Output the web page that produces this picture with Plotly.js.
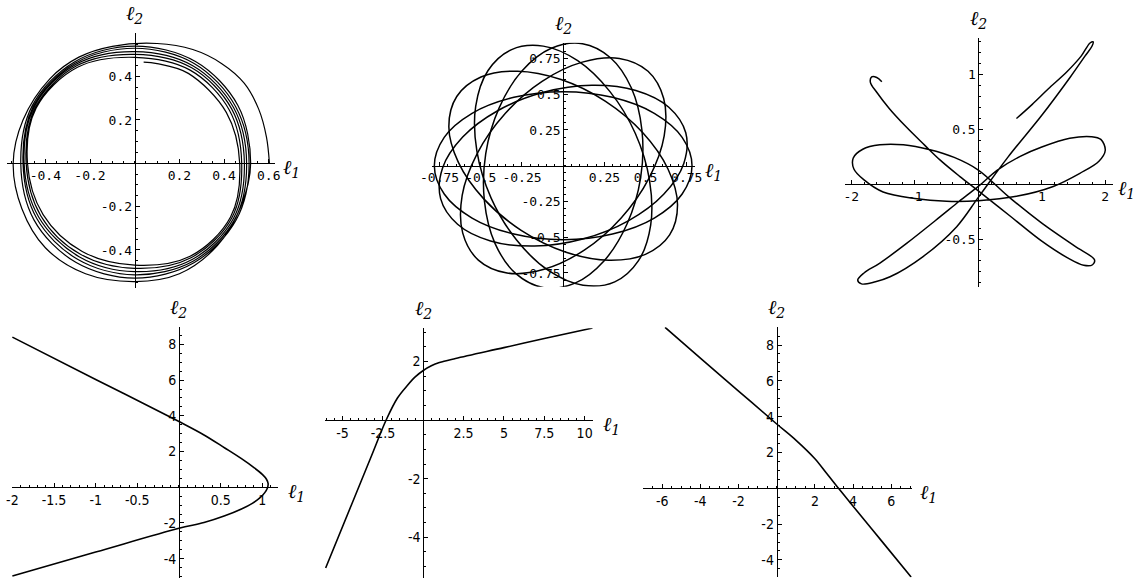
<!DOCTYPE html>
<html>
<head>
<meta charset="utf-8">
<script src="https://cdn.plot.ly/plotly-3.0.1.min.js"></script>
<style>
  html, body { margin: 0; padding: 0; background: #fff; }
  #chart { width: 1138px; height: 586px; }
</style>
</head>
<body>
<div id="chart"></div>
<script>
// ---- data ----

// panel 1: slowly shrinking spiral, first loop starts at (0.6, 0)
const p1X = [0.603, 0.59, 0.555, 0.49, 0.39, 0.26, 0.10, -0.10, -0.25, -0.38, -0.50, -0.544, -0.505, -0.40, -0.22, 0, 0.20, 0.37, 0.475, 0.519,
  0.462, 0.272, 0, -0.270, -0.459, -0.51, -0.451, -0.264, 0, 0.265, 0.454, 0.512,
  0.452, 0.266, 0, -0.267, -0.454, -0.50, -0.439, -0.256, 0, 0.261, 0.448, 0.501,
  0.443, 0.260, 0, -0.264, -0.450, -0.495, -0.430, -0.249, 0, 0.257, 0.442, 0.491,
  0.434, 0.255, 0, -0.260, -0.445, -0.486, -0.420, -0.243, 0, 0.252, 0.435, 0.479,
  0.424, 0.248, 0, -0.256, -0.441, -0.48, -0.410, -0.235, 0, 0.248, 0.429, 0.47,
  0.41, 0.24, 0.10, 0.04];
const p1Y = [0, 0.12, 0.25, 0.37, 0.46, 0.525, 0.553, 0.54, 0.49, 0.39, 0.20, 0, -0.21, -0.39, -0.51, -0.546, -0.51, -0.38, -0.20, 0,
  0.267, 0.470, 0.541, 0.468, 0.265, 0, -0.261, -0.457, -0.53, -0.459, -0.262, 0,
  0.261, 0.461, 0.531, 0.462, 0.262, 0, -0.254, -0.443, -0.515, -0.452, -0.259, 0,
  0.256, 0.450, 0.515, 0.456, 0.260, 0, -0.248, -0.431, -0.50, -0.444, -0.255, 0,
  0.251, 0.441, 0.503, 0.450, 0.257, 0, -0.243, -0.42, -0.485, -0.436, -0.251, 0,
  0.245, 0.430, 0.489, 0.443, 0.255, 0, -0.237, -0.407, -0.47, -0.429, -0.248, 0,
  0.235, 0.415, 0.46, 0.467];

// panel 2: precessing ellipse, one loop per group (null = break)
const p2X = [0.782, 0.722, 0.553, 0.299, 0, -0.299, -0.553, -0.722, -0.782, -0.722, -0.553, -0.299, 0, 0.299, 0.553, 0.722, 0.782, null,
  0.744, 0.641, 0.441, 0.174, -0.119, -0.395, -0.610, -0.732, -0.744, -0.641, -0.441, -0.174, 0.119, 0.395, 0.610, 0.732, 0.744, null,
  0.646, 0.694, 0.636, 0.482, 0.255, -0.013, -0.277, -0.499, -0.646, -0.694, -0.636, -0.482, -0.255, 0.013, 0.277, 0.499, 0.646, null,
  0.515, 0.341, 0.116, -0.128, -0.352, -0.522, -0.613, -0.610, -0.515, -0.341, -0.116, 0.128, 0.352, 0.522, 0.613, 0.610, 0.515, null,
  0.313, 0.457, 0.531, 0.524, 0.438, 0.284, 0.088, -0.121, -0.313, -0.457, -0.531, -0.524, -0.438, -0.284, -0.088, 0.121, 0.313, null,
  0.117, -0.072, -0.249, -0.388, -0.470, -0.478, -0.414, -0.287, -0.117, 0.072, 0.249, 0.388, 0.470, 0.478, 0.414, 0.287, 0.117];
const p2Y = [0, 0.198, 0.366, 0.478, 0.517, 0.478, 0.366, 0.198, 0, -0.198, -0.366, -0.478, -0.517, -0.478, -0.366, -0.198, 0, null,
  0.230, 0.409, 0.526, 0.562, 0.513, 0.386, 0.200, -0.016, -0.230, -0.409, -0.526, -0.562, -0.513, -0.386, -0.200, 0.016, 0.230, null,
  -0.484, -0.273, -0.023, 0.232, 0.452, 0.603, 0.661, 0.620, 0.484, 0.273, 0.023, -0.232, -0.452, -0.603, -0.661, -0.620, -0.484, null,
  0.660, 0.750, 0.724, 0.590, 0.365, 0.085, -0.208, -0.470, -0.660, -0.750, -0.724, -0.590, -0.365, -0.085, 0.208, 0.470, 0.660, null,
  -0.812, -0.664, -0.415, -0.103, 0.225, 0.518, 0.734, 0.836, 0.812, 0.664, 0.415, 0.103, -0.225, -0.518, -0.734, -0.836, -0.812, null,
  0.853, 0.821, 0.664, 0.406, 0.085, -0.248, -0.543, -0.755, -0.853, -0.821, -0.664, -0.406, -0.085, 0.248, 0.543, 0.755, 0.853];

// panel 3: looping orbit, starts at the hook top-left, ends at (0.6, 0.6)
const p3X = [-1.52, -1.60, -1.68, -1.70, -1.60, -1.40, -1.13, -0.85, -0.60, -0.30, 0, 0.50, 1.00, 1.40, 1.66, 1.80, 1.83, 1.52, 1.00, 0.47, 0,
  -0.38, -0.76, -1.18, -1.55, -1.82, -1.97, -1.96, -1.80, -1.50, -1.00, -0.50, 0, 0.60, 1.18, 1.60, 1.90, 2.00, 1.93, 1.78, 1.44, 1.00, 0.66, 0.30, 0,
  -0.30, -0.60, -1.13, -1.55, -1.80, -1.90, -1.84, -1.62, -1.39, -0.87, -0.34, 0, 0.47, 1.00, 1.45, 1.68, 1.79, 1.81, 1.76, 1.62, 1.40, 1.10, 0.85, 0.60];
const p3Y = [0.937, 0.975, 0.98, 0.93, 0.84, 0.69, 0.52, 0.36, 0.22, 0.075, -0.06, -0.29, -0.52, -0.67, -0.74, -0.735, -0.69, -0.565, -0.355, -0.11, 0.13,
  0.245, 0.315, 0.36, 0.36, 0.32, 0.24, 0.14, 0.04, -0.07, -0.13, -0.155, -0.15, -0.11, -0.02, 0.10, 0.21, 0.31, 0.41, 0.435, 0.42, 0.34, 0.255, 0.13, -0.02,
  -0.155, -0.296, -0.54, -0.72, -0.81, -0.875, -0.91, -0.89, -0.845, -0.66, -0.387, -0.12, 0.25, 0.63, 0.98, 1.17, 1.26, 1.30, 1.29, 1.17, 1.03, 0.87, 0.73, 0.60];

// panel 4: sideways parabola
const p4X = [-2.0, -1.0, 0, 0.3, 0.55, 0.75, 0.9, 1.0, 1.05, 1.07, 1.06, 1.03, 0.97, 0.88, 0.75, 0.55, 0.3, 0, -1.0, -2.0];
const p4Y = [8.41, 6.04, 3.68, 2.93, 2.2, 1.6, 1.1, 0.72, 0.45, 0.2, -0.05, -0.3, -0.6, -0.9, -1.22, -1.6, -1.98, -2.3, -3.63, -4.97];

// panel 5: steep branch bending into a shallow one
const p5X = [-6.05, -4.5, -3.2, -2.3, -1.6, -1.0, -0.5, 0, 0.5, 1.0, 2.0, 5.0, 7.5, 10.5];
const p5Y = [-5.05, -2.96, -1.21, 0, 0.75, 1.17, 1.47, 1.69, 1.85, 1.96, 2.1, 2.47, 2.78, 3.14];

// panel 6: falling line with a bend past the origin
const p6X = [-5.85, -4.0, -2.0, 0, 1.0, 2.0, 2.6, 3.2, 4.0, 5.5, 7.05];
const p6Y = [8.99, 7.27, 5.43, 3.59, 2.69, 1.65, 0.85, 0.05, -1.0, -2.95, -4.97];

// tick labels (0 is left out, as in the original)
const p1XTicks = [-0.4, -0.2, 0.2, 0.4, 0.6];
const p1YTicks = [-0.4, -0.2, 0.2, 0.4];
const p2XTicks = [-0.75, -0.5, -0.25, 0.25, 0.5, 0.75];
const p2YTicks = [-0.75, -0.5, -0.25, 0.25, 0.5, 0.75];
const p3XTicks = [-2, -1, 1, 2];
const p3YTicks = [-0.5, 0.5, 1];
const p4XTicks = [-2, -1.5, -1, -0.5, 0.5, 1];
const p4YTicks = [-4, -2, 2, 4, 6, 8];
const p5XTicks = [-5, -2.5, 2.5, 5, 7.5, 10];
const p5YTicks = [-4, -2, 2];
const p6XTicks = [-6, -4, -2, 2, 4, 6];
const p6YTicks = [-4, -2, 2, 4, 6, 8];

// ---- layout ----
const W = 1138, H = 586;

const topFont = { family: "DejaVu Sans Mono", size: 13, color: "#000" };
const bottomFont = { family: "Liberation Sans Narrow, DejaVu Sans Condensed, sans-serif", size: 14, color: "#000" };
const labelFont = { family: "DejaVu Serif", size: 20, color: "#000", style: "italic" };

// box = [left, right, top, bottom] of the axis lines in pixels
const panels = [
  { box: [6.7, 275, 33.3, 288.3], xr: [-0.573, 0.628], yr: [-0.577, 0.6], xt: p1XTicks, yt: p1YTicks, xm: 0.05, ym: 0.05, x: p1X, y: p1Y, w: 1.2, f: topFont, lx: 6 },
  { box: [431.7, 695, 42.7, 286.7], xr: [-0.798, 0.8], yr: [-0.846, 0.86], xt: p2XTicks, yt: p2YTicks, xm: 0.05, ym: 0.05, x: p2X, y: p2Y, w: 1.5, f: topFont, lx: 8 },
  { box: [845, 1112.7, 38.3, 287.3], xr: [-2.1, 2.117], yr: [-0.941, 1.333], xt: p3XTicks, yt: p3YTicks, xm: 0.2, ym: 0.1, x: p3X, y: p3Y, w: 1.5, f: topFont, lx: 3 },
  { box: [11.7, 278.3, 327.3, 578.3], xr: [-2.008, 1.192], yr: [-5.1, 8.96], xt: p4XTicks, yt: p4YTicks, xm: 0.1, ym: 0.5, x: p4X, y: p4Y, w: 1.6, f: bottomFont, lx: 8 },
  { box: [325, 592.7, 328.3, 578.3], xr: [-6.09, 10.5], yr: [-5.4, 3.13], xt: p5XTicks, yt: p5YTicks, xm: 0.5, ym: 0.5, x: p5X, y: p5Y, w: 1.6, f: bottomFont, lx: 8 },
  { box: [642.7, 911.7, 327.3, 577.3], xr: [-7.02, 7.07], yr: [-4.97, 8.99], xt: p6XTicks, yt: p6YTicks, xm: 0.5, ym: 0.5, x: p6X, y: p6Y, w: 1.6, f: bottomFont, lx: 6 }
];

const layout = {
  width: W,
  height: H,
  margin: { l: 0, r: 0, t: 0, b: 0 },
  paper_bgcolor: "#fff",
  plot_bgcolor: "rgba(0,0,0,0)",
  showlegend: false,
  annotations: []
};
const traces = [];

function axisBase(vals, minorStep, font) {
  return {
    showline: true,
    linecolor: "#000",
    linewidth: 1,
    showgrid: false,
    zeroline: false,
    ticks: "inside",
    ticklen: 4,
    tickwidth: 1,
    tickcolor: "#000",
    tickangle: 0,
    tickmode: "array",
    tickvals: vals,
    ticktext: vals.map(String),
    tickfont: font,
    minor: { ticks: "inside", ticklen: 2, tickwidth: 1, tickcolor: "#000", tick0: 0, dtick: minorStep, showgrid: false },
    fixedrange: true
  };
}

panels.forEach((p, i) => {
  const k = i === 0 ? "" : String(i + 1);
  const xd = [p.box[0] / W, p.box[1] / W];
  const yd = [1 - p.box[3] / H, 1 - p.box[2] / H];

  // put each axis through the origin
  const xPos = yd[0] + (0 - p.yr[0]) / (p.yr[1] - p.yr[0]) * (yd[1] - yd[0]);
  const yPos = xd[0] + (0 - p.xr[0]) / (p.xr[1] - p.xr[0]) * (xd[1] - xd[0]);

  layout["xaxis" + k] = Object.assign(axisBase(p.xt, p.xm, p.f), {
    domain: xd, range: p.xr, anchor: "free", position: xPos, side: "bottom"
  });
  layout["yaxis" + k] = Object.assign(axisBase(p.yt, p.ym, p.f), {
    domain: yd, range: p.yr, anchor: "free", position: yPos, side: "left"
  });

  traces.push({
    x: p.x,
    y: p.y,
    xaxis: "x" + k,
    yaxis: "y" + k,
    type: "scatter",
    mode: "lines",
    connectgaps: false,
    line: { color: "#000", width: p.w, shape: "spline", smoothing: 1 },
    hoverinfo: "skip"
  });

  layout.annotations.push({
    xref: "x" + k, yref: "y" + k, x: p.xr[1], y: 0,
    xanchor: "left", yanchor: "middle", xshift: p.lx, yshift: -5,
    text: "ℓ<sub>1</sub>", showarrow: false, font: labelFont
  });
  layout.annotations.push({
    xref: "x" + k, yref: "y" + k, x: 0, y: p.yr[1],
    xanchor: "center", yanchor: "bottom", yshift: 4,
    text: "ℓ<sub>2</sub>", showarrow: false, font: labelFont
  });
});

Plotly.newPlot("chart", traces, layout, { staticPlot: true, displayModeBar: false });
</script>
</body>
</html>
